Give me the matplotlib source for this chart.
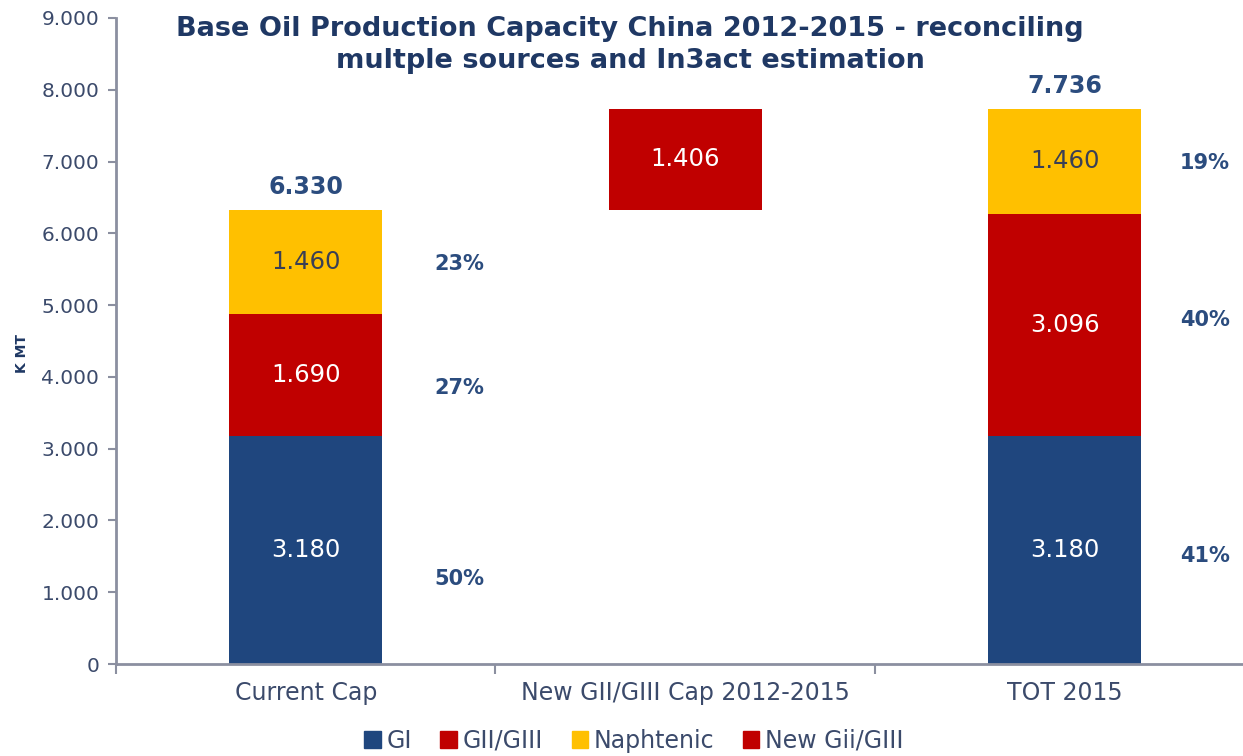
import matplotlib
matplotlib.use('Agg')
import matplotlib.pyplot as plt
from matplotlib.patches import Patch

# ── Data ────────────────────────────────────────────────────────────────
categories = ['Current Cap', 'New GII/GIII Cap 2012-2015', 'TOT 2015']
gi = [3180, 0, 3180]
gii = [1690, 0, 3096]
naph = [1460, 0, 1460]
new_gii = 1406
totals = ['6.330', '', '7.736']
pct_cur = ['50%', '27%', '23%']
pct_tot = ['41%', '40%', '19%']
yticks = [0, 1000, 2000, 3000, 4000, 5000, 6000, 7000, 8000, 9000]
ytick_labels = ['0', '1.000', '2.000', '3.000', '4.000', '5.000', '6.000',
                '7.000', '8.000', '9.000']

NAVY, RED, YEL = '#1F467E', '#C00000', '#FFC000'
TXT = '#1F3864'
PCT = '#2B4C7E'
TICK = '#3B4A6B'

fig = plt.figure(figsize=(12.43, 7.56), dpi=100)
ax = fig.add_axes([116 / 1243, 92 / 756, 1138.5 / 1243, 646 / 756])

x = [0, 1, 2]
w = 0.403
ax.bar(x, gi, w, color=NAVY, label='GI')
ax.bar(x, gii, w, bottom=gi, color=RED, label='GII/GIII')
base2 = [a + b for a, b in zip(gi, gii)]
ax.bar(x, naph, w, bottom=base2, color=YEL, label='Naphtenic')
start_new = gi[0] + gii[0] + naph[0]
ax.bar(1, new_gii, w, bottom=start_new, color=RED, label='New Gii/GIII')


def fmt(v):
    return f'{v/1000:.3f}'


# segment labels
for i in (0, 2):
    ax.text(i, gi[i] / 2, fmt(gi[i]), ha='center', va='center',
            color='white', fontsize=17.5)
    ax.text(i, gi[i] + gii[i] / 2, fmt(gii[i]), ha='center', va='center',
            color='white', fontsize=17.5)
    ax.text(i, base2[i] + naph[i] / 2, fmt(naph[i]), ha='center',
            va='center', color='#3A3F55', fontsize=17.5)
    top = base2[i] + naph[i]
    ax.text(i, top + 310, totals[i], ha='center', va='center',
            color=PCT, fontsize=17, fontweight='bold')
ax.text(1, start_new + new_gii / 2, fmt(new_gii), ha='center', va='center',
        color='white', fontsize=17.5)

# percentage labels (read positions)
for lab, y in zip(pct_cur, [1180, 3840, 5570]):
    ax.text(0.405, y, lab, ha='center', va='center', color=PCT,
            fontsize=15, fontweight='bold')
for lab, y in zip(pct_tot, [1500, 4790, 6980]):
    ax.text(2.37, y, lab, ha='center', va='center', color=PCT,
            fontsize=15, fontweight='bold')

ax.set_xlim(-0.5, 2.5)
ax.set_ylim(0, 9000)
ax.set_yticks(yticks)
ax.set_yticklabels(ytick_labels, fontsize=14.5, color=TICK)
ax.set_xticks(x)
ax.set_xticklabels(categories, fontsize=17, color=TICK)
ax.tick_params(axis='x', length=0, pad=12)
ax.set_xticks([-0.5, 0.5, 1.5, 2.5], minor=True)
ax.tick_params(axis='x', which='minor', length=7, width=1.5, color='#8B8FA0')
ax.tick_params(axis='y', length=6, width=1.5, color='#8B8FA0', pad=6)
for s in ('top', 'right'):
    ax.spines[s].set_visible(False)
for s in ('left', 'bottom'):
    ax.spines[s].set_color('#8B8FA0')
    ax.spines[s].set_linewidth(2)

fig.text(22 / 1243, 1 - 353 / 756, 'K MT', rotation=90, ha='center',
         va='center', fontsize=10, fontweight='bold', color=TXT)

fig.text(630 / 1243, 1 - 45 / 756,
         'Base Oil Production Capacity China 2012-2015 - reconciling\n'
         'multple sources and In3act estimation',
         ha='center', va='center', fontsize=19.5, fontweight='bold',
         color=TXT, linespacing=1.35)

handles = [Patch(color=NAVY, label='GI'), Patch(color=RED, label='GII/GIII'),
           Patch(color=YEL, label='Naphtenic'),
           Patch(color=RED, label='New Gii/GIII')]
leg = fig.legend(handles=handles, loc='center', ncol=4,
                 bbox_to_anchor=(634 / 1243, 1 - 741 / 756), frameon=False,
                 fontsize=17, handlelength=0.7, handleheight=0.7,
                 handletextpad=0.25, columnspacing=1.2, borderpad=0.2)
for t in leg.get_texts():
    t.set_color(TICK)

fig.savefig('out.png', dpi=100)
